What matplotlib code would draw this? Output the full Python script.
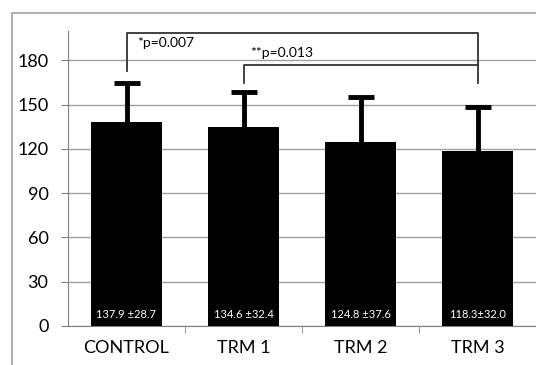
import matplotlib.pyplot as plt
from matplotlib.lines import Line2D

groups = ["CONTROL", "TRM 1", "TRM 2", "TRM 3"]
means = [137.9, 134.6, 124.8, 118.3]
errs = [27.0, 24.0, 30.5, 30.0]
value_labels = ["137.9 \u00b128.7", "134.6 \u00b132.4", "124.8 \u00b137.6", "118.3\u00b132.0"]
yticks = [0, 30, 60, 90, 120, 150, 180]

plt.rcParams['font.family'] = ['Lato', 'DejaVu Sans']

fig = plt.figure(figsize=(5.36, 3.65), dpi=100)
ax = fig.add_axes([68 / 536, 39 / 365, 468 / 536, 313 / 365])

x = list(range(len(groups)))
tops = [m + e for m, e in zip(means, errs)]
ax.bar(x, means, width=0.6, color="black", zorder=3)
# upper error bars only
ax.vlines(x, means, tops, color="black", lw=3.5, zorder=3)
ax.plot(x, tops, ls="none", marker="_", ms=19, mew=3.5, color="black", zorder=3)

for xi, lab in zip(x, value_labels):
    ax.text(xi, 7.5, lab, color="white", ha="center", va="center", fontsize=8, zorder=4)

ax.set_xlim(-0.5, 3.5)
ax.set_ylim(0, 212)
ax.set_yticks(yticks)
ax.tick_params(axis="y", labelsize=13, length=5, color="#808080", pad=9)
ax.set_xticks(x)
ax.set_xticklabels(groups, fontsize=13)
ax.tick_params(axis="x", length=0, pad=10)
ax.set_xticks([0.5, 1.5, 2.5], minor=True)
ax.tick_params(axis="x", which="minor", length=5, color="#808080")
ax.yaxis.grid(True, color="#a0a0a0", linewidth=1, zorder=0)
for s in ["top", "right"]:
    ax.spines[s].set_visible(False)
ax.spines["left"].set_bounds(0, 200)
ax.spines["left"].set_color("#808080")
ax.spines["bottom"].set_color("#808080")

# significance brackets
ax.plot([0, 0, 3, 3], [172.7, 198.4, 198.4, 164.5], color="#333333", lw=1.3,
        solid_joinstyle="round", zorder=5)
ax.plot([1, 1, 3], [164.5, 176.7, 176.7], color="#333333", lw=1.3,
        solid_joinstyle="round", zorder=5)
ax.text(0.09, 191.6, "*p=0.007", fontsize=10, va="center", ha="left")
ax.text(1.06, 184.9, "**p=0.013", fontsize=10, va="center", ha="left")

# outer chart frame
fig.add_artist(Line2D([12 / 536, 1], [1 - 13 / 365, 1 - 13 / 365], color="#b0b0b0", lw=1.5))
fig.add_artist(Line2D([12 / 536, 12 / 536], [0, 1 - 13 / 365], color="#b0b0b0", lw=1.5))

fig.savefig("out.png", dpi=100)
